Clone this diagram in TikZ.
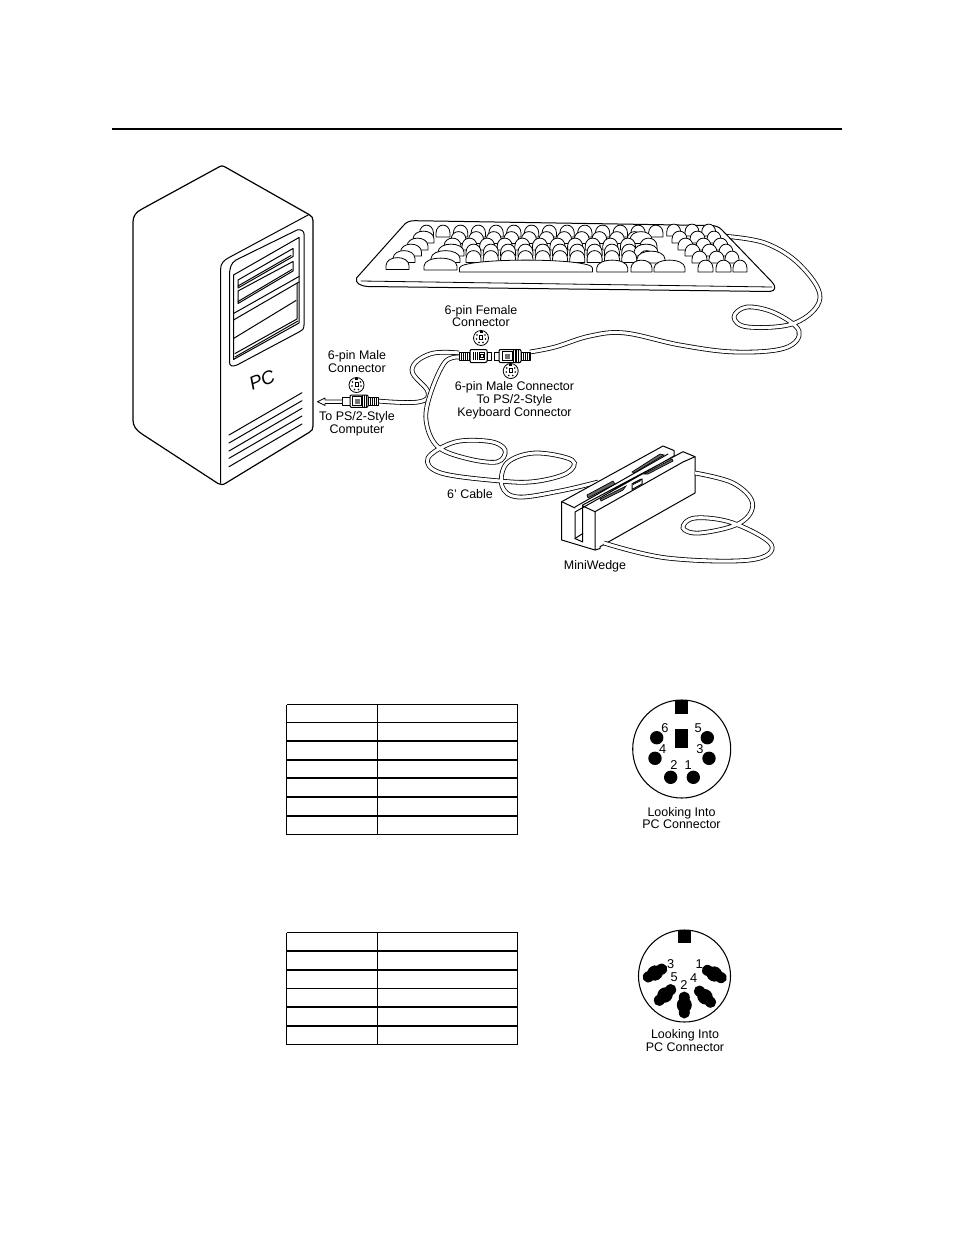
\documentclass[tikz,border=0pt]{standalone}
\usepackage{fontspec}
\setmainfont{Liberation Sans}
\tikzset{
 ink/.style={draw=black,line width=.75pt,line cap=round,line join=round},
 thin ink/.style={draw=black,line width=.6pt,line cap=round,line join=round},
 cablest/.style={draw=black,line width=.6pt,double=white,double distance=2.3pt,line cap=butt},
 lab/.style={font=\fontsize{9.35}{9.6}\selectfont,align=center,inner sep=0pt},
 pinlab/.style={font=\fontsize{9.6}{10}\selectfont,inner sep=0pt},
 cell/.style={draw=black,line width=.85pt},
 rail/.style={draw=black,line width=.5pt,fill=black!60}
}
\newcommand\kk[3]{\draw[thin ink,fill=white] ({#1},{#2}) -- ({#1},{#2-4}) .. controls ({#1+.5},{#2-14.5}) and ({#1+#3-.5},{#2-14.5}) .. ({#1+#3},{#2-4}) -- ({#1+#3},{#2}) -- cycle;}
\newcommand\miniconn[2]{%
 \draw[thin ink,fill=white] (#1,#2) circle[radius=7.5];
 \fill ({#1-1.5},{#2-7.5}) rectangle ({#1+1.5},{#2-5});
 \draw[line width=.5pt] ({#1-1.5},{#2-3}) rectangle ({#1+1.5},{#2+1});
 \foreach \a/\b in {-4/-3,4/-3,-4.5/1,4.5/1,-2/4.5,2/4.5}{\fill ({#1+\a},{#2+\b}) circle[radius=.9];}}
\newcommand\blob[3]{\begin{scope}[shift={(#1,#2)},rotate=#3]
 \fill (0,0) circle[x radius=8,y radius=7.5];
 \fill (-7.5,0) circle[x radius=6,y radius=5.5];
 \fill (7.5,0) circle[x radius=6,y radius=5.5];
 \end{scope}}
\begin{document}
\begin{tikzpicture}[x=.75pt,y=-.75pt]
\useasboundingbox (0,0) rectangle (954,1235);
\fill[white] (0,0) rectangle (954,1235);
% top rule
\draw[line width=1.5pt] (112,129) -- (842,129);

% ---- PC tower
\draw[ink,line width=.9pt] (218,167.5) .. controls (221,165.5) and (223,165.5) .. (226,167.5) -- (309,214.5)
 .. controls (312,216) and (313,218) .. (313,221) -- (313,426) .. controls (313,429) and (312,431) .. (309,432.5)
 -- (226,483) .. controls (223,485) and (221,485) .. (218,483.5) -- (142,434)
 .. controls (136,430) and (133,426) .. (133,420) -- (133,222) .. controls (133,216) and (136,212) .. (142,209) -- cycle;
\draw[ink] (220.5,483) -- (220.5,270) .. controls (220.5,263) and (224,260) .. (230,257) -- (309,214.5);
\draw[ink] (229.5,362) -- (229.5,276) .. controls (229.5,268) and (231,263) .. (236,260) -- (297,230)
 .. controls (301,229) and (304,231) .. (304,234) -- (304,325) .. controls (304,329) and (302,331) .. (299,332) -- (237,365) .. controls (232,367) and (229.5,366) .. (229.5,362);
\draw[ink] (233.5,275) -- (299,237.5) -- (299,323) -- (233.5,359.5) -- cycle;
\draw[ink] (233.5,313.5) -- (299,276.5);
\draw[ink] (233.5,320) -- (299,282);
\draw[ink] (233.5,338.5) -- (296,300.5);
\draw[ink] (235,357) -- (298,321);
\draw[ink] (235,353.5) -- (297,319) -- (297,283);
\draw[ink] (238,280) -- (293,248.5) -- (293,256.5) -- (238,288) -- cycle;
\draw[ink] (238,286) -- (291,255.5);
\draw[ink] (238,291) -- (293,261.5) -- (293,271) -- (238,303.5) -- cycle;
\draw[ink] (238,301.5) -- (292,269.5);
\node[inner sep=0pt,rotate=22] (pc) at (262,380) {\fontsize{14}{14}\selectfont\itshape PC};
\foreach \a/\b in {435/392.7,443/400.7,451/408.3,458.3/416,466.7/424}{\draw[ink] (229,\a) -- (302,\b);}

% ---- keyboard cable (behind keyboard)
\draw[cablest] plot[smooth,tension=.62] coordinates {(722,236) (765,243) (800,265) (820,298) (795,323) (748,327) (734,317) (747,307) (775,313) (799,331) (785,348) (735,352) (680,345) (625,333) (590,336) (555,347) (530,352)};

% ---- keyboard
\draw[ink,fill=white] (403,226) .. controls (406,222) and (410,220.5) .. (415,220.7) -- (710,225.5) .. controls (716,225.5) and (719,227) .. (722,230)
 -- (772,282) .. controls (776,286) and (776,291) .. (770,291.5) -- (368,286.5) .. controls (360,286) and (355,283) .. (356.5,278) -- cycle;
\draw[thin ink] (361,281) -- (772,287);
% keys
\kk{419.5}{237}{14}\kk{436}{237}{14}
\foreach \i in {0,...,11}{\kk{453.3+17.75*\i}{237}{14.5}}
\kk{666.7}{236}{14}\kk{685}{236}{14}\kk{701.7}{236}{14}
\kk{413}{243}{21}
\foreach \i in {0,...,10}{\kk{451+17.6*\i}{243.5}{15}}
\kk{630}{243.5}{22}
\kk{672}{243}{15}\kk{690}{243}{15}\kk{707}{243}{14}
\kk{407}{250}{21}\kk{444}{250}{17}
\foreach \i in {0,...,9}{\kk{462+17.6*\i}{250}{15}}
\kk{640}{250}{17}
\kk{678}{250}{15}\kk{696}{250}{15}\kk{713}{250}{15}
\kk{400.5}{256}{21}\kk{438}{256}{26}
\foreach \i in {0,...,9}{\kk{466+17.3*\i}{256}{15}}
\kk{634}{256}{24}
\kk{685}{256}{15}\kk{702}{256}{15}\kk{719}{256}{14}
\kk{393}{262.5}{22}\kk{431}{262.5}{29}
\foreach \i in {0,...,10}{\kk{466+17.3*\i}{262.5}{15}}
\kk{637}{263}{28}
\kk{692}{263}{15}\kk{709}{263}{15}\kk{725}{263}{14}
\kk{386}{269.5}{23}\kk{424}{270}{33}
\kk{459.5}{272}{133}
\kk{596.7}{272}{31}\kk{631}{272}{21}\kk{654}{272}{31}
\kk{698}{272}{15}\kk{716}{272}{15}\kk{733}{272}{14}

% ---- cables at connectors
\draw[cablest] plot[smooth,tension=.7] coordinates {(459,353) (430,354) (412,370) (428,392) (418,402) (378,401)};
\draw[cablest] plot[smooth,tension=.6] coordinates {(459,357) (445,362) (431,392) (426,420) (437,446) (465,458) (497,462) (505,450) (490,441.5) (455,442) (428,458) (441,473) (500,481) (535,481.5) (567,473) (572,460) (535,453) (507,463) (502,486) (518,497) (560,491) (598,482)};

% ---- female connector
\draw[thin ink,fill=white] (459,352) rectangle (470,360);
\foreach \x in {461,463,465,467,469}{\draw[line width=.7pt] (\x,352) -- (\x,360);}
\draw[ink,fill=white] (470,351) .. controls (470,350) .. (471,349.5) -- (485,349.5) .. controls (487,350) .. (487,351) -- (487,361) .. controls (487,362) .. (485,362.5) -- (471,362.5) .. controls (470,362) .. (470,361) -- cycle;
\draw[line width=.7pt] (473,352) -- (473,360) (475,352) -- (475,360) (477,352) -- (477,360);
\draw[line width=.6pt] (479,352.5) rectangle (484.5,359.5) (480.5,354.5) rectangle (483,357.5);
\draw[thin ink,fill=white] (487,352) rectangle (491,360);
% male connector (keyboard)
\draw[thin ink,fill=white] (494,352) rectangle (499,360);
\draw[ink,fill=white] (499,351) .. controls (499,350) .. (500,349.5) -- (520,349.5) .. controls (521,350) .. (521,351) -- (521,361) .. controls (521,362) .. (520,362.5) -- (500,362.5) .. controls (499,362) .. (499,361) -- cycle;
\draw[line width=.6pt,fill=white] (502,351.5) rectangle (512,360.5);
\fill[black!55] (504.5,353.5) rectangle (510,358.5);
\draw[line width=.9pt] (513.5,350) -- (513.5,362) (516,350) -- (516,362) (518.5,350) -- (518.5,362);
\draw[thin ink,fill=white] (521,352) rectangle (530,360);
\foreach \x in {523,525,527,529}{\draw[line width=.6pt] (\x,352) -- (\x,360);}
% male connector (computer)
\draw[thin ink,fill=white] (342,397) rectangle (350,405.5);
\draw[ink,fill=white] (350,396) .. controls (350,395.5) .. (351,395) -- (367,395) .. controls (368,395.5) .. (368,396) -- (368,406) .. controls (368,407) .. (367,407.3) -- (351,407.3) .. controls (350,407) .. (350,406) -- cycle;
\draw[line width=.6pt,fill=white] (352.5,396.8) rectangle (361,405.5);
\fill[black!55] (354.5,398.5) rectangle (359.5,404);
\draw[line width=.9pt] (362.5,395) -- (362.5,407) (364.7,395) -- (364.7,407) (366.7,395) -- (366.7,407);
\draw[thin ink,fill=white] (368,397.5) rectangle (378,405);
\foreach \x in {370.5,372.5,374.5,376.5}{\draw[line width=.6pt] (\x,397.5) -- (\x,405);}
% hollow arrow
\draw[thin ink,fill=white] (342,400) -- (325,400) -- (325,398) -- (317.5,401.7) -- (325,405.5) -- (325,403.5) -- (342,403.5);

\miniconn{481}{338}
\miniconn{356.5}{385}
\miniconn{510.7}{371}

% ---- MiniWedge
\draw[ink,fill=white] (561.7,501.7) -- (663,446) -- (674,450.5) -- (674,456) -- (575,512) -- (575,538.5) -- (582.7,542) -- (582.7,505) -- (683,451.7) -- (695,456.7) -- (695,493) -- (600,546.7) -- (600,548.5) -- (595,550) -- (561.7,540) -- cycle;
\draw[ink] (595,550) -- (595,511.7) -- (582.7,506);
\draw[ink] (595,511.7) -- (683,462) -- (695,456.7);
\draw[ink] (575,508) -- (561.7,501.7);
\draw[ink] (575,538.5) -- (582.7,533.5);
\draw[ink] (575,507) -- (668,454);
% rails
\draw[rail] (587,495) -- (613,481) -- (615,484) -- (588,498) -- cycle;
\draw[rail] (632,472) -- (660,454) -- (664,455) -- (634,473) -- cycle;
\draw[rail] (600,499) -- (626,486) -- (623,490) -- (601,501) -- cycle;
\draw[rail] (644,474) -- (672,459) -- (673,461) -- (648,474) -- cycle;
\draw[ink,fill=white] (632,484) -- (642,479) -- (642,484) -- (632,489.5) -- cycle;
\draw[line width=.5pt] (633,483) -- (641,479) (633,484.5) -- (641,480.5);

% wedge exit cable
\draw[cablest] plot[smooth,tension=.62] coordinates {(695,473) (733,483) (752.5,503) (740,523) (700,533) (683,528) (695,518) (733,523) (771.5,545) (750,560) (667,558) (604,543)};

% ---- labels
\node[lab] (t1) at (481,316) {6-pin Female\\Connector};
\node[lab] (t2) at (357,361.5) {6-pin Male\\Connector};
\node[lab] (t3) at (357,423.5) {To PS/2-Style\\Computer};
\node[lab] (t4) at (514.5,400.5) {6-pin Male Connector\\To PS/2-Style\\Keyboard Connector};
\node[lab] (t5) at (470,494) {6' Cable};
\node[lab] (t6) at (595,566) {MiniWedge};

% ---- tables
\foreach \y in {704.5,722.5,741,760,778,797,816,834.5}{\draw[cell] (286.5,\y) -- (517.5,\y);}
\foreach \x in {286.5,377.5,517.5}{\draw[cell] (\x,704.5) -- (\x,834.5);}
\foreach \y in {932.5,951,970,988.5,1007,1026,1044.5}{\draw[cell] (286.5,\y) -- (517.5,\y);}
\foreach \x in {286.5,377.5,517.5}{\draw[cell] (\x,932.5) -- (\x,1044.5);}

% ---- connector 1
\draw[line width=.8pt] (681.7,749) circle[radius=49];
\fill (675,700) rectangle (688,714);
\fill (675,729) rectangle (688,747.5);
\foreach \x/\y in {656.7/737.7,655/758.3,670.7/777.3,693.3/777.3,709/758.3,707.3/737.7}{\fill (\x,\y) circle[radius=6.7];}
\node[pinlab] (p6) at (665,728.5) {6};
\node[pinlab] (p5) at (698.3,728.5) {5};
\node[pinlab] (p4) at (662.7,749.5) {4};
\node[pinlab] (p3) at (700,749.5) {3};
\node[pinlab] (p2) at (674,765) {2};
\node[pinlab] (p1) at (688.3,765) {1};
\node[lab] (t7) at (681.5,818) {Looking Into\\PC Connector};

% ---- connector 2
\draw[line width=.8pt] (684.5,976) circle[radius=46];
\fill (678,930) rectangle (691,942.7);
\blob{655}{973}{30}
\blob{714.3}{974}{-28}
\blob{665}{995}{43}
\blob{705}{996.7}{-45}
\blob{684.3}{1005}{90}
\node[pinlab] (q3) at (670.7,964) {3};
\node[pinlab] (q1) at (699.3,964) {1};
\node[pinlab] (q5) at (674.3,977.5) {5};
\node[pinlab] (q4) at (693.7,978) {4};
\node[pinlab] (q2) at (684,985) {2};
\node[lab] (t8) at (685,1040.5) {Looking Into\\PC Connector};
\end{tikzpicture}
\end{document}
